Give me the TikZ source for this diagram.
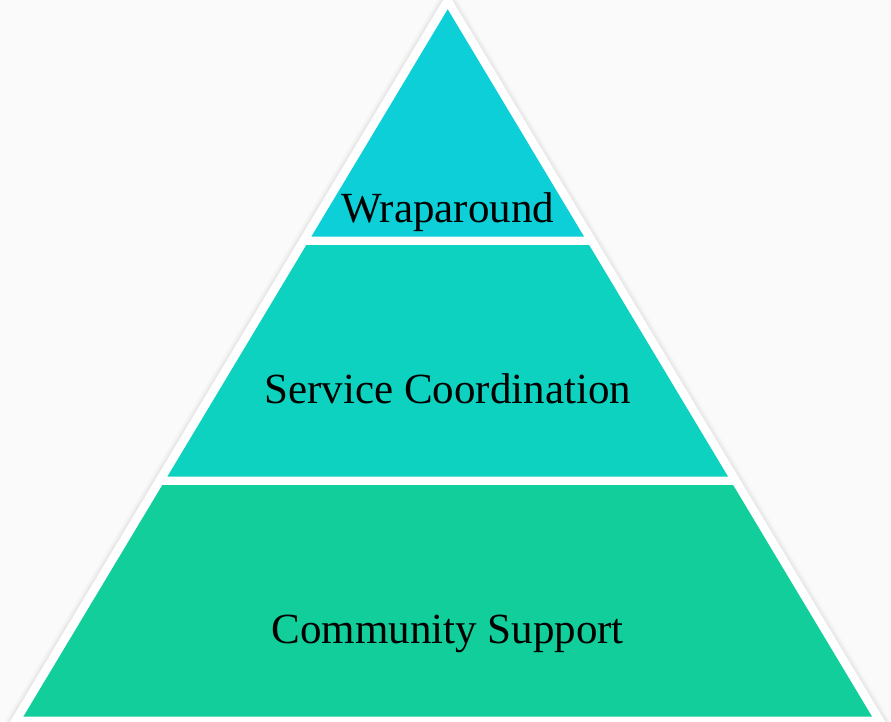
\documentclass[tikz,border=0pt]{standalone}
\usepackage{fontspec}
\setmainfont{Liberation Serif}
\definecolor{bgc}{HTML}{FAFAFA}
\definecolor{topc}{HTML}{0CCFD8}
\definecolor{midc}{HTML}{0ED2C0}
\definecolor{botc}{HTML}{12CE9A}
\tikzset{
  layer/.style={draw=none},
  lbl/.style={anchor=base, inner sep=0pt, font=\fontsize{43}{50}\selectfont, text=black},
  glow/.style={draw=black, line join=miter}
}
\begin{document}
\begin{tikzpicture}[x=1pt,y=-1pt]
\useasboundingbox (0,0) rectangle (891,721);
\clip (0,0) rectangle (891,721);
\fill[bgc] (0,0) rectangle (891,721);
% soft shadow around the white frame
\foreach \w/\o in {10/0.015,7/0.02,4/0.03}{
  \draw[glow, line width=\w pt, draw opacity=\o] (447.7,-7.4) -- (5.2,730) -- (890.2,730) -- cycle;
}
% white frame
\fill[white] (447.7,-7.4) -- (5.2,730) -- (890.2,730) -- cycle;
% layers
\fill[topc, layer] (447.7,9.3) -- (311.3,236.7) -- (584.1,236.7) -- cycle;
\fill[midc, layer] (306.3,245) -- (167.3,476.7) -- (728.1,476.7) -- (589.1,245) -- cycle;
\fill[botc, layer] (162.3,485) -- (23.3,716.7) -- (872.1,716.7) -- (733.1,485) -- cycle;
% labels
\node[lbl] (wrap) at (447.7,222.7) {Wraparound};
\node[lbl] (serv) at (447.7,403.3) {Service Coordination};
\node[lbl] (comm) at (447.7,643) {Community Support};
\end{tikzpicture}
\end{document}
